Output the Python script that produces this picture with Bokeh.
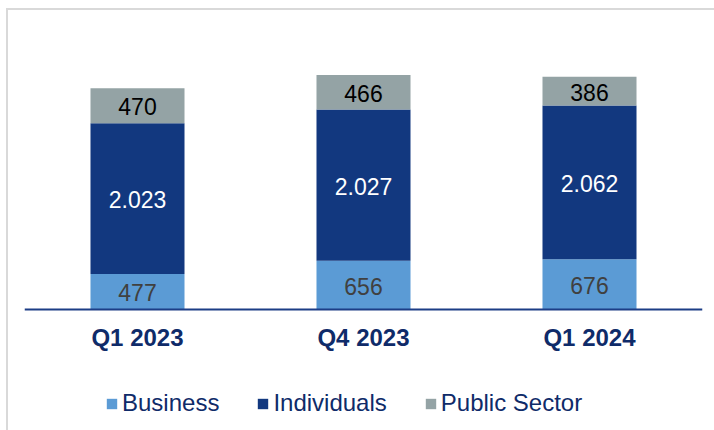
from bokeh.plotting import figure
from bokeh.models import (ColumnDataSource, Legend, LegendItem,
                          LabelSet, FactorRange, Range1d)
from bokeh.core.properties import value
from bokeh.embed import file_html
from bokeh.resources import INLINE

quarters = ["Q1 2023", "Q4 2023", "Q1 2024"]
business = [477, 656, 676]
individuals = [2023, 2027, 2062]
public_sector = [470, 466, 386]
series_names = ["Business", "Individuals", "Public Sector"]
series_keys = ["business", "individuals", "public"]
colors = ["#5b9bd5", "#12387f", "#94a3a5"]
label_colors = ["#404040", "#ffffff", "#000000"]

FONT = "Liberation Sans"
NAVY_TEXT = "#0f2b69"


def fmt(v):
    return f"{v:,}".replace(",", ".")


data = {"q": quarters, "business": business, "individuals": individuals,
        "public": public_sector}
src = ColumnDataSource(data)

p = figure(x_range=FactorRange(*quarters), y_range=Range1d(-1624, 3906),
           width=706, height=420,
           frame_width=678, frame_height=412,
           min_border_left=16, min_border_right=12, min_border_top=8,
           min_border_bottom=0,
           output_backend="svg", toolbar_location=None)
p.styles = {"margin-left": "6px", "margin-top": "8px",
            "border-left": "2px solid #d9d9d9",
            "border-top": "2px solid #d9d9d9"}

renderers = p.vbar_stack(series_keys, x="q", width=0.416, color=colors,
                         line_color=None, source=src)

# value labels centred in each segment
bottoms = [0, 0, 0]
for key, vals, col in zip(series_keys, [business, individuals, public_sector], label_colors):
    mids = [b + v / 2 for b, v in zip(bottoms, vals)]
    lsrc = ColumnDataSource({"q": quarters, "y": mids, "t": [fmt(v) for v in vals]})
    p.add_layout(LabelSet(x="q", y="y", text="t", source=lsrc,
                          text_align="center", text_baseline="middle",
                          text_font=value(FONT), text_font_size=value("23px"),
                          text_color=value(col), y_offset=-1))
    bottoms = [b + v for b, v in zip(bottoms, vals)]

p.yaxis.visible = False
p.xgrid.visible = False
p.ygrid.visible = False
p.outline_line_color = None

xa = p.xaxis[0]
xa.fixed_location = 0
xa.axis_line_color = "#1c3d86"
xa.axis_line_width = 2
xa.major_tick_line_color = None
xa.minor_tick_line_color = None
xa.major_tick_out = 0
xa.major_tick_in = 0
xa.major_label_standoff = 14
xa.major_label_text_font = FONT
xa.major_label_text_font_size = "24px"
xa.major_label_text_font_style = "bold"
xa.major_label_text_color = NAVY_TEXT

legend = Legend(items=[LegendItem(label=n, renderers=[r]) for n, r in zip(series_names, renderers)],
                orientation="horizontal", location=(81, 13),
                border_line_color=None, background_fill_alpha=0,
                label_text_font=FONT, label_text_font_size="24px",
                label_text_color=NAVY_TEXT,
                glyph_width=13, glyph_height=13, label_standoff=4,
                spacing=37, padding=0, margin=0)
p.add_layout(legend)

open("out.html", "w").write(file_html(p, INLINE))
